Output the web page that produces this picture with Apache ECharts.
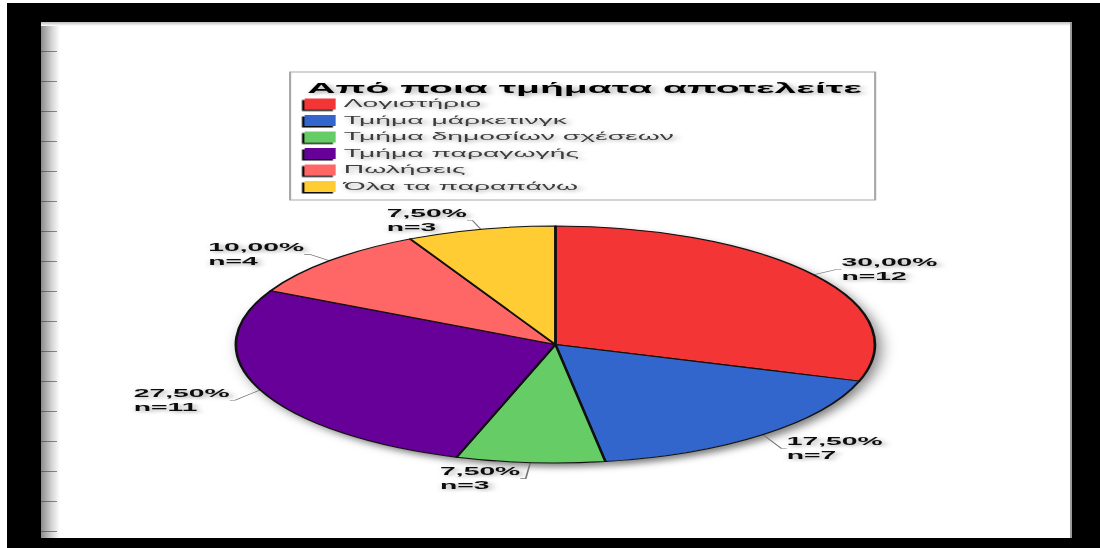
<!DOCTYPE html>
<html>
<head>
<meta charset="utf-8">
<script src="https://cdn.jsdelivr.net/npm/echarts@6/dist/echarts.min.js"></script>
<style>
  html, body { margin: 0; padding: 0; background: #fff; width: 1100px; height: 548px; overflow: hidden; position: relative; }
  /* the chart is laid out in a narrow box and widened, giving the flat, wide pie and wide lettering */
  #chart { position: absolute; left: 0; top: 0; width: 408px; height: 548px; transform: scaleX(2.69608); transform-origin: 0 0; }
  .frame { position: absolute; background: #000; z-index: 5; }
  #ruler { position: absolute; left: 41px; top: 22px; width: 19px; height: 516px; z-index: 4;
    background:
      repeating-linear-gradient(to bottom, transparent 0 29px, rgba(50,50,50,0.55) 29px 30px) left top / 16px 100% no-repeat,
      linear-gradient(to right, #8c8c8c, #d8d8d8 60%, #fff); }
  #topEdge { position: absolute; left: 41px; top: 22px; width: 1031px; height: 4px; z-index: 4;
    background: linear-gradient(to bottom, #bdbdbd, #fff); }
  #rightEdge { position: absolute; left: 1070px; top: 22px; width: 2px; height: 516px; z-index: 4; background: #9a9a9a; }
</style>
</head>
<body>
<div id="chart"></div>
<div class="frame" style="left:7px;top:3px;width:1093px;height:19px"></div>
<div class="frame" style="left:7px;top:3px;width:34px;height:545px"></div>
<div class="frame" style="left:1072px;top:3px;width:28px;height:545px"></div>
<div class="frame" style="left:7px;top:538px;width:1093px;height:10px"></div>
<div id="ruler"></div>
<div id="topEdge"></div>
<div id="rightEdge"></div>
<script>
// Respondents by department
const chartTitle = 'Από ποια τμήματα αποτελείτε';
const departments = ['Λογιστήριο', 'Τμήμα μάρκετινγκ', 'Τμήμα δημοσίων σχέσεων', 'Τμήμα παραγωγής', 'Πωλήσεις', 'Όλα τα παραπάνω'];
const counts = [12, 7, 3, 11, 4, 3];
const sliceColors = ['#F33535', '#3366CC', '#66CC66', '#660099', '#FF6666', '#FFCC33'];

const pieData = departments.map((name, i) => ({ name: name, value: counts[i] }));
const textFont = "'Liberation Sans', Arial, sans-serif";
const haze = { textShadowColor: 'rgba(0,0,0,0.35)', textShadowBlur: 3, textShadowOffsetX: 1, textShadowOffsetY: 1.5 };

const pieCenter = [206, 344.5];
const pieRadius = 118.5;

const chart = echarts.init(document.getElementById('chart'), null, { renderer: 'svg' });
chart.setOption({
  animation: false,
  backgroundColor: 'transparent',
  color: sliceColors,
  title: {
    text: chartTitle,
    left: 114,
    top: 80,
    padding: 0,
    textStyle: Object.assign({ fontFamily: textFont, fontSize: 14.5, fontWeight: 'bold', color: '#000' }, haze)
  },
  legend: {
    orient: 'vertical',
    left: 113,
    top: 98.5,
    padding: 0,
    icon: 'rect',
    itemWidth: 11.5,
    itemHeight: 11,
    itemGap: 5.5,
    data: departments,
    itemStyle: { borderWidth: 0, shadowColor: '#111', shadowBlur: 0, shadowOffsetX: -1, shadowOffsetY: 1.5 },
    textStyle: Object.assign({ fontFamily: textFont, fontSize: 10.5, lineHeight: 11, color: '#3c3c3c', padding: [0, 0, 0, -2] }, haze),
    selectedMode: false
  },
  graphic: [{
    type: 'rect',
    silent: true,
    z: -1,
    shape: { x: 107.6, y: 72, width: 217, height: 128 },
    style: { fill: 'none', stroke: '#a8a8a8', lineWidth: 0.8 }
  }],
  series: [
    {
      type: 'pie',
      name: chartTitle,
      z: 3,
      center: pieCenter,
      radius: pieRadius,
      startAngle: 90,
      clockwise: true,
      data: pieData,
      itemStyle: { borderColor: '#111', borderWidth: 1 },
      emphasis: { disabled: true },
      label: Object.assign({
        show: true,
        position: 'outside',
        distanceToLabelLine: 1,
        formatter: p => p.percent.toFixed(2).replace('.', ',') + '%\nn=' + p.value,
        fontFamily: textFont,
        fontWeight: 'bold',
        fontSize: 10.5,
        lineHeight: 14,
        color: '#111'
      }, haze),
      labelLine: { show: true, length: 9, length2: 2, lineStyle: { color: '#777', width: 0.6 } },
      // both lines of every label flush left; labels under the pie sit a little lower
      labelLayout: params => {
        const r = params.labelRect;
        const below = r.y + r.height / 2 > pieCenter[1];
        return { x: r.x, align: 'left', dy: below ? 7 : 0 };
      }
    },
    {
      // soft drop shadow under the pie
      type: 'pie',
      name: 'shadow',
      z: 1,
      silent: true,
      center: pieCenter,
      radius: pieRadius,
      startAngle: 90,
      data: pieData,
      itemStyle: { color: '#fff', shadowColor: 'rgba(0,0,0,0.5)', shadowBlur: 6, shadowOffsetX: 2, shadowOffsetY: 4 },
      label: { show: false },
      labelLine: { show: false },
      emphasis: { disabled: true },
      tooltip: { show: false }
    }
  ]
});
</script>
</body>
</html>
